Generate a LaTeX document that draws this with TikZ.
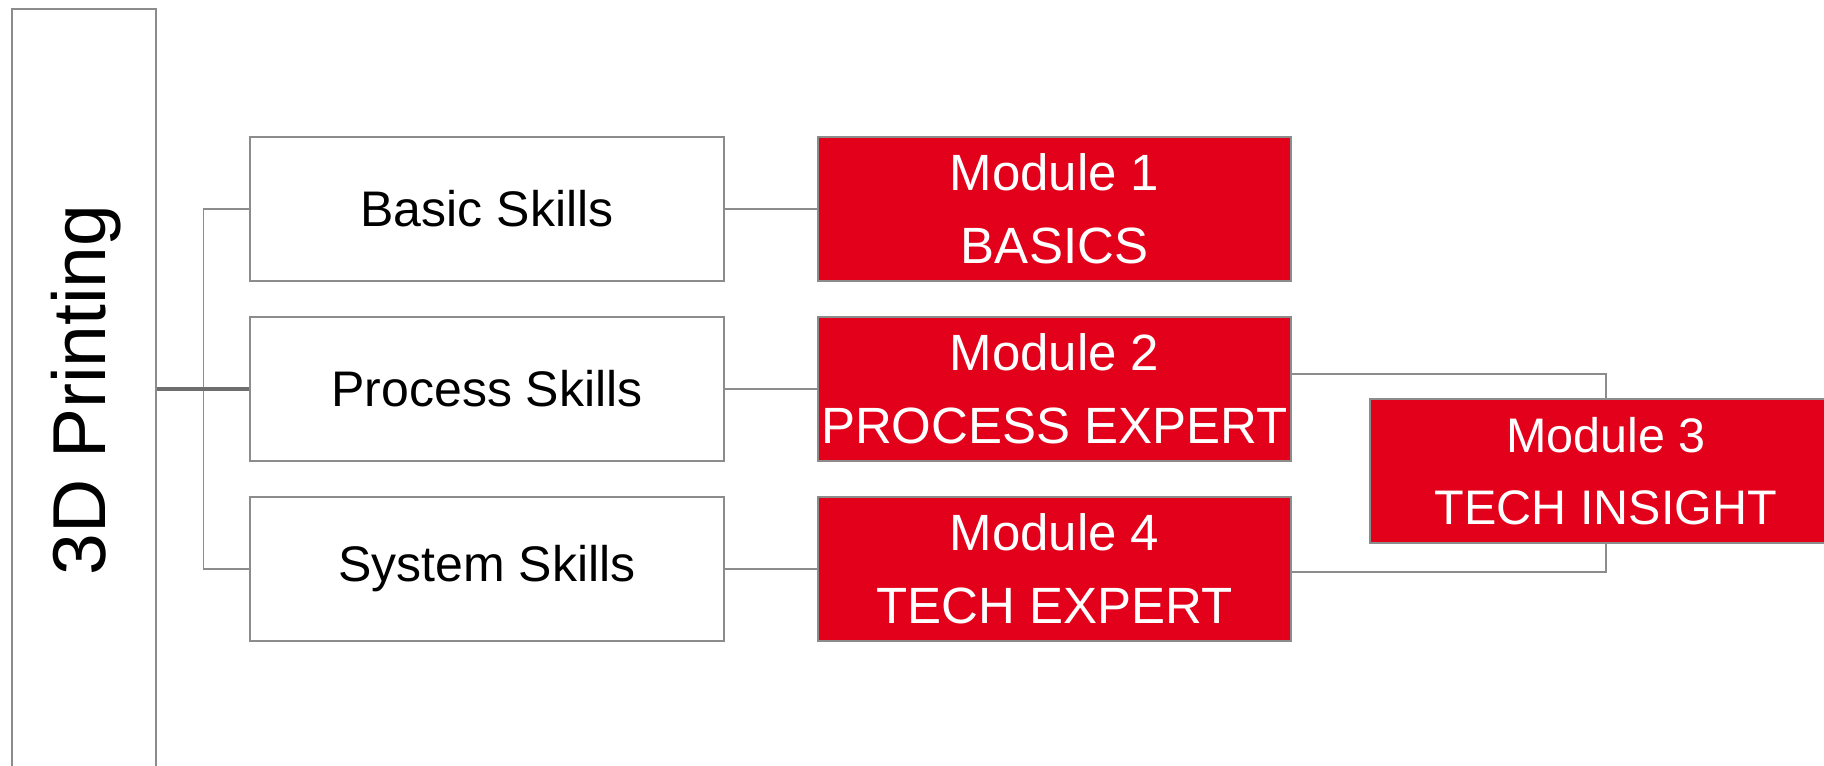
\documentclass[tikz,border=0pt]{standalone}
\usepackage{fontspec}
\setmainfont{Liberation Sans}
\definecolor{modred}{HTML}{E3001B}
\definecolor{edgegray}{HTML}{8C8C8C}
\definecolor{thickgray}{HTML}{6E6E6E}
\begin{document}
\begin{tikzpicture}[x=1pt,y=-1pt,
  rootbox/.style={draw=edgegray, line width=1.6pt, fill=white, inner sep=0pt,
    minimum width=144pt, minimum height=766pt},
  skillbox/.style={draw=edgegray, line width=1.6pt, fill=white, inner sep=0pt,
    minimum width=474pt, minimum height=144pt, text=black,
    font=\fontsize{50}{60}\selectfont},
  modbox/.style={draw=edgegray, line width=1.6pt, fill=modred, inner sep=0pt,
    minimum width=473pt, minimum height=144pt, text=white, align=center,
    font=\fontsize{51}{72.5}\selectfont},
  link/.style={draw=edgegray, line width=1.3pt},
  mainlink/.style={draw=thickgray, line width=4pt}]
\useasboundingbox (0,0) rectangle (1824,766);
\clip (0,0) rectangle (1824,766);
% root
\node[rootbox] (root) at (84,392) {};
\node[rotate=90, font=\fontsize{75}{80}\selectfont, text=black] (roottext) at (86,390) {3D Printing};
% skills
\node[skillbox] (basic) at (487,209) {Basic Skills};
\node[skillbox] (process) at (487,389) {Process Skills};
\node[skillbox] (system) at (487,569) {System Skills};
% modules
\node[modbox] (m1) at (1054.5,209) {Module 1\\BASICS};
\node[modbox] (m2) at (1054.5,389) {Module 2\\PROCESS EXPERT};
\node[modbox] (m4) at (1054.5,569) {Module 4\\TECH EXPERT};
\node[modbox, minimum width=472pt, font=\fontsize{48.5}{71.6}\selectfont] (m3) at (1606,471) {Module 3\\TECH INSIGHT};
% bracket
\coordinate (bx) at (203.5,389);
\draw[link] (basic.west) -| (bx) |- (system.west);
\draw[mainlink] (root.east |- process.west) -- (process.west);
% skill to module
\draw[link] (basic.east) -- (m1.west);
\draw[link] (process.east) -- (m2.west);
\draw[link] (system.east) -- (m4.west);
% modules to module 3
\draw[link] ([yshift=15pt]m2.east) -| (m3.north);
\draw[link] ([yshift=-3pt]m4.east) -| (m3.south);
\end{tikzpicture}
\end{document}
